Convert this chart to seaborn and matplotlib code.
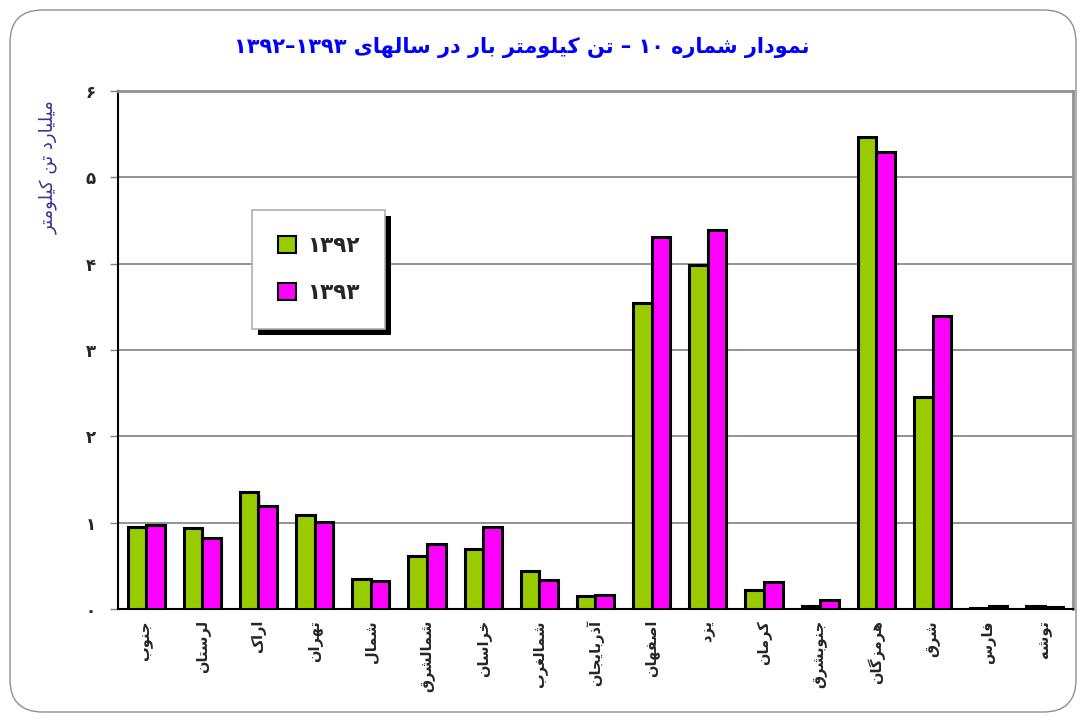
import matplotlib
matplotlib.use("Agg")
import matplotlib.pyplot as plt
import matplotlib.patches as mpatches
import matplotlib.patheffects as pe
import seaborn as sns
import pandas as pd

# ---------------- data ----------------
regions = ["جنوب", "لرستان", "اراک", "تهران", "شمال", "شمالشرق", "خراسان", "شمالغرب",
           "آذربایجان", "اصفهان", "یزد", "کرمان", "جنوبشرق", "هرمزگان", "شرق", "فارس", "توشه"]
values_1392 = [0.95, 0.94, 1.35, 1.09, 0.35, 0.61, 0.69, 0.44, 0.15, 3.54, 3.99, 0.22, 0.03, 5.47, 2.46, 0.01, 0.04]
values_1393 = [0.97, 0.82, 1.19, 1.01, 0.33, 0.75, 0.95, 0.34, 0.16, 4.31, 4.39, 0.31, 0.10, 5.29, 3.39, 0.04, 0.02]
years = ["۱۳۹۲", "۱۳۹۳"]
y_ticks = [0, 1, 2, 3, 4, 5, 6]
y_tick_labels = ["۰", "۱", "۲", "۳", "۴", "۵", "۶"]
title_text = "نمودار شماره ۱۰ – تن کیلومتر بار در سالهای ۱۳۹۳–۱۳۹۲"
ylabel_text = "میلیارد تن کیلومتر"

# ---------------- minimal Arabic/Persian shaping ----------------
def _r(a, b):
    return tuple(range(a, b + 1))

FORMS = {
    'ء': (0xFE80, None, None, None),
    'آ': (0xFE81, 0xFE82, None, None),
    'أ': (0xFE83, 0xFE84, None, None),
    'ؤ': (0xFE85, 0xFE86, None, None),
    'إ': (0xFE87, 0xFE88, None, None),
    'ئ': _r(0xFE89, 0xFE8C),
    'ا': (0xFE8D, 0xFE8E, None, None),
    'ب': _r(0xFE8F, 0xFE92),
    'ة': (0xFE93, 0xFE94, None, None),
    'ت': _r(0xFE95, 0xFE98),
    'ث': _r(0xFE99, 0xFE9C),
    'ج': _r(0xFE9D, 0xFEA0),
    'ح': _r(0xFEA1, 0xFEA4),
    'خ': _r(0xFEA5, 0xFEA8),
    'د': (0xFEA9, 0xFEAA, None, None),
    'ذ': (0xFEAB, 0xFEAC, None, None),
    'ر': (0xFEAD, 0xFEAE, None, None),
    'ز': (0xFEAF, 0xFEB0, None, None),
    'س': _r(0xFEB1, 0xFEB4),
    'ش': _r(0xFEB5, 0xFEB8),
    'ص': _r(0xFEB9, 0xFEBC),
    'ض': _r(0xFEBD, 0xFEC0),
    'ط': _r(0xFEC1, 0xFEC4),
    'ظ': _r(0xFEC5, 0xFEC8),
    'ع': _r(0xFEC9, 0xFECC),
    'غ': _r(0xFECD, 0xFED0),
    'ف': _r(0xFED1, 0xFED4),
    'ق': _r(0xFED5, 0xFED8),
    'ك': _r(0xFED9, 0xFEDC),
    'ل': _r(0xFEDD, 0xFEE0),
    'م': _r(0xFEE1, 0xFEE4),
    'ن': _r(0xFEE5, 0xFEE8),
    'ه': _r(0xFEE9, 0xFEEC),
    'و': (0xFEED, 0xFEEE, None, None),
    'ى': (0xFEEF, 0xFEF0, None, None),
    'ي': _r(0xFEF1, 0xFEF4),
    'پ': _r(0xFB56, 0xFB59),
    'چ': _r(0xFB7A, 0xFB7D),
    'ژ': (0xFB8A, 0xFB8B, None, None),
    'ک': _r(0xFB8E, 0xFB91),
    'گ': _r(0xFB92, 0xFB95),
    'ی': _r(0xFBFC, 0xFBFF),
}


def shape(text):
    out = []
    n = len(text)
    for i, ch in enumerate(text):
        f = FORMS.get(ch)
        if f is None:
            out.append(ch)
            continue
        prev = text[i - 1] if i > 0 else None
        nxt = text[i + 1] if i + 1 < n else None
        jp = prev in FORMS and FORMS[prev][2] is not None and f[1] is not None
        jn = nxt in FORMS and FORMS[nxt][1] is not None and f[2] is not None
        if jp and jn:
            cp = f[3]
        elif jp:
            cp = f[1]
        elif jn:
            cp = f[2]
        else:
            cp = f[0]
        out.append(chr(cp))
    return "".join(out)


def is_digit(c):
    return '\u06F0' <= c <= '\u06F9' or '0' <= c <= '9'


def visual(text):
    s = shape(text)
    runs = []
    for c in s:
        d = is_digit(c)
        if runs and runs[-1][0] == d:
            runs[-1][1].append(c)
        else:
            runs.append([d, [c]])
    parts = []
    for d, chars in reversed(runs):
        parts.append("".join(chars) if d else "".join(reversed(chars)))
    return "".join(parts)


# ---------------- figure ----------------
sns.set_theme(style="white")
plt.rcParams['font.family'] = ['DejaVu Sans']

GREEN = "#99CC00"
MAGENTA = "#FF00FF"

df = pd.DataFrame({
    "region": regions * 2,
    "year": [years[0]] * len(regions) + [years[1]] * len(regions),
    "value": values_1392 + values_1393,
})

fig = plt.figure(figsize=(10.86, 7.21), dpi=100)
ax = fig.add_axes([118 / 1086, 1 - 609 / 721, (1073 - 118) / 1086, (609 - 91) / 721])

sns.barplot(data=df, x="region", y="value", hue="year", order=regions, hue_order=years,
            palette=[GREEN, MAGENTA], width=0.66, edgecolor="black", linewidth=2.2,
            saturation=1, dodge=True, legend=False, ax=ax, zorder=3)

for p in ax.patches:
    p.set_path_effects([pe.SimplePatchShadow(offset=(1.5, -1.5), shadow_rgbFace="#bbbbbb", alpha=0.8),
                        pe.Normal()])

ax.set_xlim(-0.5, len(regions) - 0.5)
ax.set_ylim(0, 6)
ax.set_yticks(y_ticks)
ax.set_yticklabels(y_tick_labels, fontsize=12, fontweight="bold")
ax.yaxis.grid(True, color="#808080", linewidth=1.2, zorder=0)
ax.set_axisbelow(True)
ax.set_xlabel("")
ax.set_ylabel("")

ax.set_xticks(range(len(regions)))
ax.set_xticklabels([visual(r) for r in regions], rotation=90, fontsize=10.5, fontweight="bold",
                   va="top", ha="center")
ax.set_xticks([i + 0.5 for i in range(-1, len(regions))], minor=True)
ax.tick_params(axis="x", which="major", length=0, pad=8)
ax.tick_params(axis="x", which="minor", length=6, width=1, color="#808080", direction="out")
ax.tick_params(axis="y", which="major", length=6, width=1, color="#808080", direction="out", pad=10, left=True)

for side in ["left", "bottom"]:
    ax.spines[side].set_color("black")
    ax.spines[side].set_linewidth(1.5)
for side in ["top", "right"]:
    ax.spines[side].set_color("#909090")
    ax.spines[side].set_linewidth(2)
    ax.spines[side].set_visible(True)

# legend
handles = [mpatches.Patch(facecolor=GREEN, edgecolor="black", linewidth=1.5),
           mpatches.Patch(facecolor=MAGENTA, edgecolor="black", linewidth=1.5)]
leg = ax.legend(handles, years, loc="upper left", bbox_to_anchor=(0.140, 0.770),
                bbox_transform=ax.transAxes, borderaxespad=0, frameon=True, fancybox=False,
                edgecolor="#b0b0b0", framealpha=1, borderpad=1.2, labelspacing=1.25,
                handlelength=0.85, handleheight=0.85, handletextpad=0.5,
                prop={"size": 15.5, "weight": "bold"})
leg.get_frame().set_linewidth(1.2)
leg.set_zorder(10)

fig.canvas.draw()
bb = leg.get_window_extent().transformed(fig.transFigure.inverted())
shadow = mpatches.Rectangle((bb.x0 + 6 / 1086, bb.y0 - 6 / 721), bb.width, bb.height,
                            transform=fig.transFigure, facecolor="black", edgecolor="none",
                            zorder=9)
fig.patches.append(shadow)
leg.remove()
fig.add_artist(leg)
leg.set_zorder(11)

# title and y label
fig.text(522 / 1086, 1 - 47 / 721, visual(title_text), ha="center", va="center",
         fontsize=15, fontweight="bold", color="#0000FF")
fig.text(48 / 1086, 1 - 167 / 721, visual(ylabel_text), ha="center", va="center",
         rotation=90, fontsize=13, color="#333399")

# rounded frame around figure
frame = mpatches.FancyBboxPatch((10 / 1086, 9 / 721), 1066 / 1086, 702 / 721,
                                boxstyle="round,pad=0,rounding_size=0.03",
                                transform=fig.transFigure, facecolor="none",
                                edgecolor="#909090", linewidth=1, mutation_aspect=1086 / 721)
fig.patches.append(frame)

fig.savefig("out.png", dpi=100)
